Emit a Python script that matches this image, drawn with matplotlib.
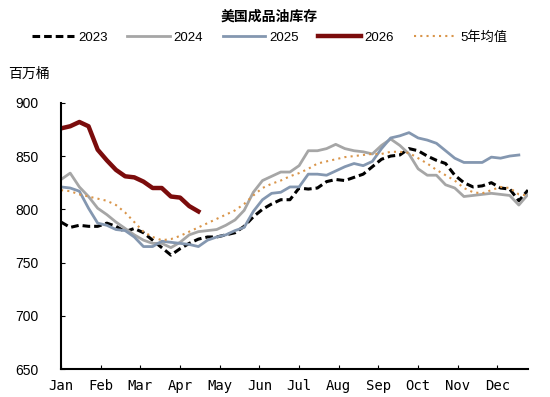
import matplotlib.pyplot as plt
import numpy as np

plt.rcParams['font.family'] = ['Liberation Sans', 'Noto Sans CJK SC']

months = ['Jan', 'Feb', 'Mar', 'Apr', 'May', 'Jun', 'Jul', 'Aug', 'Sep', 'Oct', 'Nov', 'Dec']

# weekly inventory, million barrels
y2023 = [788, 783, 785, 784, 784, 787, 784, 779, 782, 778, 771, 764, 757, 763, 768, 772,
         774, 774, 776, 778, 784, 793, 800, 805, 809, 809, 820, 819, 820, 826, 828, 827,
         830, 833, 840, 847, 850, 851, 857, 855, 850, 846, 843, 832, 825, 821, 822, 825,
         820, 819, 808, 818]
y2024 = [828, 834, 821, 812, 801, 795, 788, 782, 776, 771, 768, 768, 764, 769, 776, 779,
         780, 781, 785, 790, 799, 816, 827, 831, 835, 835, 841, 855, 855, 857, 861, 857,
         855, 854, 852, 860, 866, 860, 852, 838, 832, 832, 823, 820, 812, 813, 814, 815,
         814, 813, 804, 814]
y2025 = [821, 820, 817, 801, 787, 785, 781, 780, 774, 765, 765, 770, 769, 768, 767, 765,
         771, 774, 776, 780, 783, 798, 809, 815, 816, 821, 821, 833, 833, 832, 836, 840,
         843, 841, 845, 857, 867, 869, 872, 867, 865, 862, 855, 848, 844, 844, 844, 849,
         848, 850, 851]
y2026 = [876, 878, 882, 878, 856, 846, 837, 831, 830, 826, 820, 820, 812, 811, 803, 798]
avg5 = [818, 817, 814, 812, 810, 808, 804, 797, 788, 779, 774, 771, 772, 775, 779, 783,
        787, 791, 795, 799, 805, 813, 820, 824, 827, 831, 834, 838, 843, 845, 847, 849,
        850, 851, 852, 852, 854, 854, 853, 848, 843, 837, 832, 827, 820, 816, 815, 818,
        821, 820, 814, 813]

fig, ax = plt.subplots(figsize=(5.5, 3.97), dpi=100)
fig.subplots_adjust(left=0.111, right=0.96, top=0.741, bottom=0.0705)

ax.plot(np.arange(len(y2023)), y2023, color='black', lw=2.2, ls=(0, (2.5, 1.3)), label='2023')
ax.plot(np.arange(len(y2024)), y2024, color='#A6A6A6', lw=2, label='2024')
ax.plot(np.arange(len(y2025)), y2025, color='#8497B0', lw=2, label='2025')
ax.plot(np.arange(len(y2026)), y2026, color='#7B0C0C', lw=3.2, label='2026')
ax.plot(np.arange(len(avg5)), avg5, color='#D9954A', lw=1.5, ls=(0, (1, 2)), label='5年均值')

ax.set_xlim(0, 51)
ax.set_ylim(650, 900)
ax.set_yticks(range(650, 901, 50))
ax.set_xticks(np.arange(12) * 52 / 12)
ax.set_xticklabels(months, family='DejaVu Sans Mono', fontsize=8)
ax.tick_params(axis='both', direction='in', labelsize=10, length=3)
ax.tick_params(axis='x', pad=7)
ax.tick_params(axis='y', pad=16)
for s in ['top', 'right']:
    ax.spines[s].set_visible(False)
ax.spines['left'].set_linewidth(1.5)
ax.spines['bottom'].set_linewidth(1.5)

fig.text(0.49, 0.975, '美国成品油库存', ha='center', va='top', fontsize=10, fontweight='bold')
fig.text(0.015, 0.815, '百万桶', ha='left', va='center', fontsize=10)
fig.legend(loc='center', bbox_to_anchor=(0.49, 0.905), ncol=5, frameon=False, fontsize=9.5,
           handlelength=3.2, handletextpad=0.3, columnspacing=1.5)

plt.savefig('out.png')
